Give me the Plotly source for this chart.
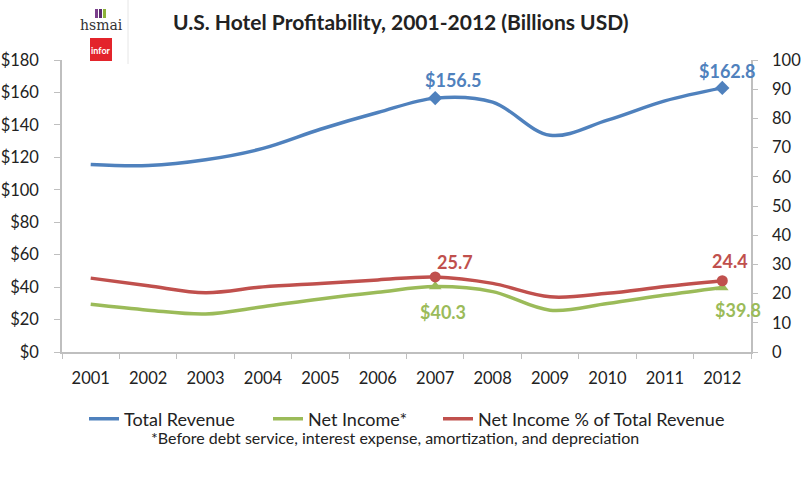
import plotly.graph_objects as go

years = ["2001", "2002", "2003", "2004", "2005", "2006", "2007", "2008", "2009", "2010", "2011", "2012"]
total_revenue = [115.6, 115.0, 118.5, 125.5, 137.3, 147.6, 156.5, 154.0, 133.6, 142.9, 154.8, 162.8]
net_income = [29.4, 25.8, 23.4, 27.9, 32.7, 36.8, 40.3, 37.2, 25.8, 29.9, 35.1, 39.8]
net_income_pct = [25.3, 22.7, 20.3, 22.3, 23.5, 24.7, 25.7, 23.5, 18.9, 20.1, 22.4, 24.4]
labeled_idx = [6, 11]
left_ticks = list(range(0, 181, 20))
right_ticks = list(range(0, 101, 10))

BLUE = "#4F81BD"
GREEN = "#9BBB59"
RED = "#C0504D"
FONT = "Lato"

W, H = 803, 491
ML, MR, MT, MB = 62, 52, 60, 139
PW, PH = W - ML - MR, H - MT - MB


def px(xp, yp):
    """pixel position in the page -> paper coordinates"""
    return (xp - ML) / PW, (H - MB - yp) / PH


def pick(values):
    return [values[i] for i in labeled_idx]


fig = go.Figure()
series = [
    ("Total Revenue", total_revenue, BLUE, "diamond", "y", "legend", 11),
    ("Net Income*", net_income, GREEN, "triangle-up", "y", "legend2", 11),
    ("Net Income % of Total Revenue", net_income_pct, RED, "circle", "y2", "legend3", 11),
]
for name, vals, col, sym, yax, leg, msize in series:
    fig.add_trace(go.Scatter(
        x=years, y=vals, name=name, mode="lines", legend=leg, yaxis=yax,
        line=dict(color=col, width=3.5, shape="spline", smoothing=1.0)))
for name, vals, col, sym, yax, leg, msize in series:
    fig.add_trace(go.Scatter(
        x=pick(years), y=pick(vals), mode="markers", yaxis=yax, showlegend=False,
        marker=dict(symbol=sym, size=msize, color=col)))

# data labels (positioned at the data points, shifted in pixels)
offs_blue = {6: (18, 18), 11: (5, 17)}
offs_red = {6: (20, 15), 11: (8, 20)}
offs_green = {6: (8, -25), 11: (16, -23)}
LS = 18
for i in labeled_idx:
    fig.add_annotation(x=i, y=total_revenue[i], xref="x", yref="y",
                       text=f"<b>${total_revenue[i]:.1f}</b>", showarrow=False,
                       xanchor="center", yanchor="middle",
                       xshift=offs_blue[i][0], yshift=offs_blue[i][1],
                       font=dict(family=FONT, size=LS, color=BLUE))
    fig.add_annotation(x=i, y=net_income_pct[i], xref="x", yref="y2",
                       text=f"<b>{net_income_pct[i]:.1f}</b>", showarrow=False,
                       xanchor="center", yanchor="middle",
                       xshift=offs_red[i][0], yshift=offs_red[i][1],
                       font=dict(family=FONT, size=LS, color=RED))
    fig.add_annotation(x=i, y=net_income[i], xref="x", yref="y",
                       text=f"<b>${net_income[i]:.1f}</b>", showarrow=False,
                       xanchor="center", yanchor="middle",
                       xshift=offs_green[i][0], yshift=offs_green[i][1],
                       font=dict(family=FONT, size=LS, color=GREEN))

# title
tx, ty = px(401, 22)
fig.add_annotation(x=tx, y=ty, xref="paper", yref="paper", xanchor="center", yanchor="middle",
                   text="<b>U.S. Hotel Profitability, 2001-2012 (Billions USD)</b>",
                   showarrow=False, font=dict(family=FONT, size=21, color="#222222"))

# footnote
fx, fy = px(395, 437)
fig.add_annotation(x=fx, y=fy, xref="paper", yref="paper", xanchor="center", yanchor="middle",
                   text="*Before debt service, interest expense, amortization, and depreciation",
                   showarrow=False, font=dict(family=FONT, size=16, color="#222222"))

# legends (one per entry, to reproduce the wide spacing)
leg_common = dict(orientation="h", yanchor="middle", xanchor="left",
                  bgcolor="rgba(0,0,0,0)", itemwidth=30,
                  font=dict(family=FONT, size=18, color="#222222"))
lx1, ly = px(84, 419)
lx2, _ = px(268, 419)
lx3, _ = px(438, 419)

fig.update_layout(
    width=W, height=H,
    margin=dict(l=ML, r=MR, t=MT, b=MB, autoexpand=False),
    paper_bgcolor="white", plot_bgcolor="white",
    font=dict(family=FONT, size=16, color="#333333"),
    showlegend=True,
    legend=dict(x=lx1, y=ly, **leg_common),
    legend2=dict(x=lx2, y=ly, **leg_common),
    legend3=dict(x=lx3, y=ly, **leg_common),
    xaxis=dict(type="category", range=[-0.5, 11.5], showgrid=False, showline=True,
               linecolor="#BFBFBF", linewidth=1.5, ticks="outside", tickson="boundaries",
               ticklen=5, tickcolor="#BFBFBF", ticklabelstandoff=10,
               tickfont=dict(family=FONT, size=16.5, color="#222222")),
    yaxis=dict(range=[0, 180], tickvals=left_ticks, ticktext=[f"${v}" for v in left_ticks],
               showgrid=False, zeroline=False, showline=True, linecolor="#BFBFBF", linewidth=1.5,
               ticks="outside", ticklen=6, tickcolor="#BFBFBF", ticklabelstandoff=12,
               tickfont=dict(family=FONT, size=16.5, color="#222222")),
    yaxis2=dict(range=[0, 100], tickvals=right_ticks, overlaying="y", side="right",
                showgrid=False, zeroline=False, showline=True, linecolor="#BFBFBF", linewidth=1.5,
                ticks="outside", ticklen=5, tickcolor="#BFBFBF", ticklabelstandoff=11,
                tickfont=dict(family=FONT, size=16.5, color="#222222")),
)

# logo (hsmai / infor)
hx, hy = px(101, 25)
fig.add_annotation(x=hx, y=hy, xref="paper", yref="paper", xanchor="center", yanchor="middle",
                   text="hsmai", showarrow=False,
                   font=dict(family="DejaVu Serif", size=14, color="#333333"))
x0, y1 = px(90, 38)
x1, y0 = px(112, 61)
fig.add_shape(type="rect", xref="paper", yref="paper", x0=x0, x1=x1, y0=y0, y1=y1,
              fillcolor="#E3242B", line=dict(width=0), layer="below")
ix, iy = px(101, 50)
fig.add_annotation(x=ix, y=iy, xref="paper", yref="paper", xanchor="center", yanchor="middle",
                   text="<b>infor</b>", showarrow=False,
                   font=dict(family=FONT, size=9, color="white"))
for (a, b, c) in [(95, 98, "#7B3F8C"), (99, 102, "#5B2C6F"), (103, 106, "#8DB33A")]:
    xa, yb = px(a, 9)
    xb, ya = px(b, 18)
    fig.add_shape(type="rect", xref="paper", yref="paper", x0=xa, x1=xb, y0=ya, y1=yb,
                  fillcolor=c, line=dict(width=0))
xa, yb = px(128, 0)
xb, ya = px(128, 64)
fig.add_shape(type="line", xref="paper", yref="paper", x0=xa, x1=xb, y0=ya, y1=yb,
              line=dict(color="#E6E6E6", width=1))

fig.write_html("out.html", post_script="document.body.style.margin='0';",
               config={"displayModeBar": False})
